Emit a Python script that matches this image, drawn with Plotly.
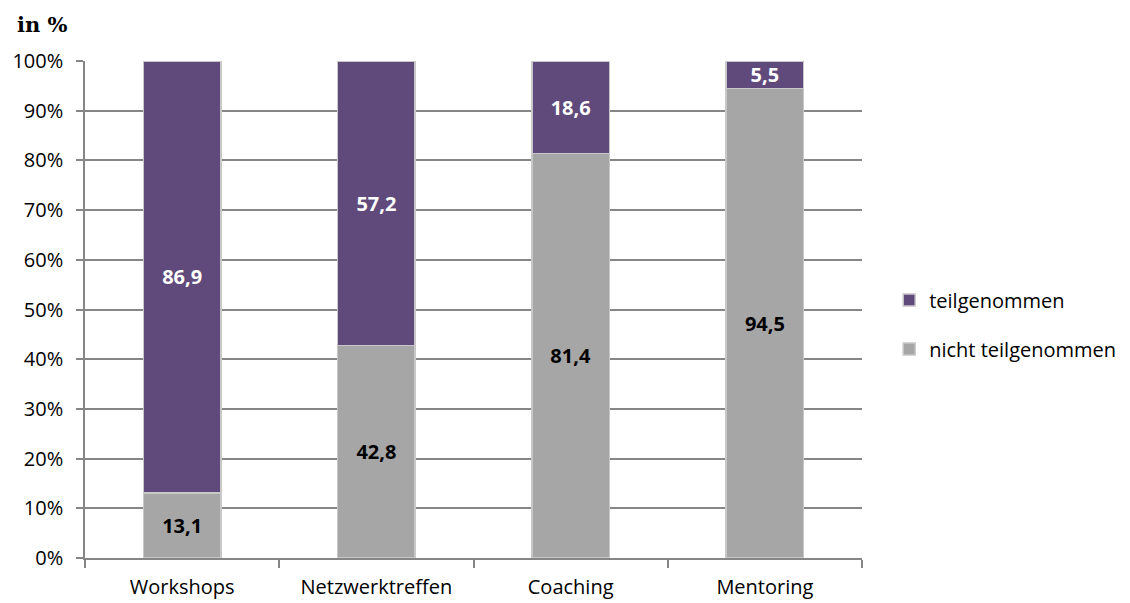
import plotly.graph_objects as go

categories = ["Workshops", "Netzwerktreffen", "Coaching", "Mentoring"]
nicht_teilgenommen = [13.1, 42.8, 81.4, 94.5]
teilgenommen = [86.9, 57.2, 18.6, 5.5]
y_ticks = [0, 10, 20, 30, 40, 50, 60, 70, 80, 90, 100]
y_tick_labels = [f"{v}%" for v in y_ticks]

FONT = "'Open Sans', sans-serif"

fig = go.Figure()
fig.add_trace(go.Bar(
    x=categories, y=nicht_teilgenommen, name="nicht teilgenommen",
    marker=dict(color="#A6A6A6", line=dict(color="#C8C8C8", width=1.5)),
    texttemplate="%{y:.1f}", textposition="inside", insidetextanchor="middle",
    textangle=0, textfont=dict(color="black", size=20, family=FONT, weight="bold"),
    legendgroup="b", legendrank=2,
))
fig.add_trace(go.Bar(
    x=categories, y=teilgenommen, name="teilgenommen",
    marker=dict(color="#604A7B", line=dict(color="#C8C8C8", width=1.5)),
    texttemplate="%{y:.1f}", textposition="inside", insidetextanchor="middle",
    textangle=0, textfont=dict(color="white", size=20, family=FONT, weight="bold"),
    legendgroup="a", legendrank=1,
))

fig.update_layout(
    barmode="stack",
    bargap=0.6,
    width=1130, height=603,
    margin=dict(l=85, r=268, t=61, b=45, autoexpand=False),
    plot_bgcolor="white", paper_bgcolor="white",
    separators=",.",
    font=dict(family=FONT, size=20, color="black"),
    uniformtext=dict(minsize=20, mode="show"),
    legend=dict(x=1.035, y=0.47, xanchor="left", yanchor="middle",
                traceorder="grouped", tracegroupgap=20,
                font=dict(size=20, family=FONT), itemwidth=30),
    xaxis=dict(showline=True, linecolor="#868686", linewidth=1.5,
               ticks="outside", tickson="boundaries", ticklen=8, tickcolor="#868686",
               tickwidth=1.5, tickfont=dict(size=20, family=FONT), ticklabelstandoff=10),
    yaxis=dict(range=[0, 100], tickvals=y_ticks, ticktext=y_tick_labels,
               showgrid=True, gridcolor="#868686", gridwidth=1.5,
               showline=True, linecolor="#868686", linewidth=1.5,
               ticks="outside", ticklen=7, tickcolor="#868686", tickwidth=1.5,
               tickfont=dict(size=20, family=FONT), zeroline=False, ticklabelstandoff=9),
)
fig.layout.annotations = [dict(text="<b>in %</b>", xref="paper", yref="paper",
                               x=-0.09, y=1.045, xanchor="left", yanchor="bottom",
                               showarrow=False,
                               font=dict(family="'DejaVu Serif', serif", size=21, color="black"))]

fig.write_html("out.html")
